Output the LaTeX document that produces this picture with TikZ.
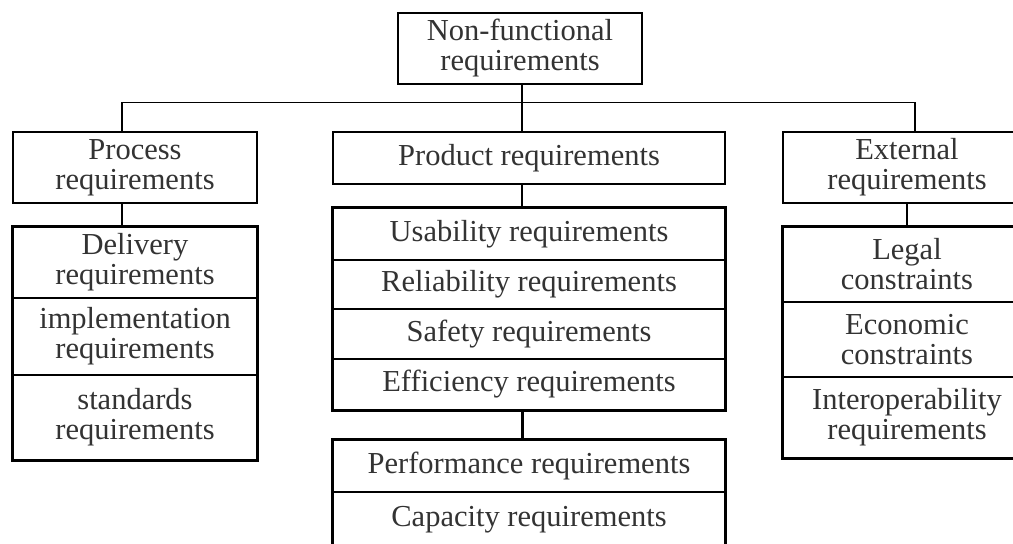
\documentclass[tikz,border=0pt]{standalone}
\usepackage{fontspec}
\setmainfont{Liberation Serif}
\begin{document}
\begin{tikzpicture}[x=1pt,y=-1pt,
  lbl/.style={font=\fontsize{30.5}{30}\selectfont, text=black!80, align=center},
  box/.style={draw, line width=1.5pt, inner sep=0pt, lbl},
  cell/.style={draw, line width=1.2pt, inner sep=0pt, lbl},
  frame/.style={line width=2.4pt},
  link/.style={line width=1.4pt},
  heavylink/.style={line width=3pt}]
\useasboundingbox (0,0) rectangle (1013,544);
\clip (0,0) rectangle (1013,544);
% top
\node[box, minimum width=244pt, minimum height=71pt] (top) at (520,48.5) {Non-functional\\requirements};
% level 2
\node[box, minimum width=244pt, minimum height=71pt] (process) at (135,167.5) {Process\\requirements};
\node[box, minimum width=392pt, minimum height=52pt] (product) at (529,158) {Product requirements};
\node[box, minimum width=248pt, minimum height=71pt] (external) at (907,167.5) {External\\requirements};
% process children
\node[cell, minimum width=244pt, minimum height=71pt] (d1) at (135,262.5) {Delivery\\requirements};
\node[cell, minimum width=244pt, minimum height=77pt] (d2) at (135,336.5) {implementation\\requirements};
\node[cell, minimum width=244pt, minimum height=85pt] (d3) at (135,417.5) {standards\\requirements};
\draw[frame] (d1.north west) rectangle (d3.south east);
% product children
\node[cell, minimum width=392pt, minimum height=52pt] (u) at (529,234) {Usability requirements};
\node[cell, minimum width=392pt, minimum height=49pt] (r) at (529,284.5) {Reliability requirements};
\node[cell, minimum width=392pt, minimum height=50pt] (s) at (529,334) {Safety requirements};
\node[cell, minimum width=392pt, minimum height=51pt] (e) at (529,384.5) {Efficiency requirements};
\draw[frame] (u.north west) rectangle (e.south east);
\node[cell, minimum width=392pt, minimum height=52pt] (p) at (529,466) {Performance requirements};
\node[cell, minimum width=392pt, minimum height=56pt] (c) at (529,520) {Capacity requirements};
\draw[frame] (p.north west) rectangle (c.south east);
% external children
\node[cell, minimum width=248pt, minimum height=75pt] (l) at (907,264.5) {Legal\\constraints};
\node[cell, minimum width=248pt, minimum height=75pt] (ec) at (907,339.5) {Economic\\constraints};
\node[cell, minimum width=248pt, minimum height=81pt] (io) at (907,417.5) {Interoperability\\requirements};
\draw[frame] (l.north west) rectangle (io.south east);
% connectors
\draw[link] ([xshift=2pt]top.south) -- ([xshift=-7pt]product.north);
\draw[link] ([xshift=-13pt]process.north) -- ++(0,-29) -| ([xshift=8pt]external.north);
\draw[link] ([xshift=-13pt]process.south) -- ([xshift=-13pt]d1.north);
\draw[link] ([xshift=-7pt]product.south) -- ([xshift=-7pt]u.north);
\draw[heavylink] ([xshift=-7pt]e.south) -- ([xshift=-7pt]p.north);
\draw[link] (external.south) -- (l.north);
\end{tikzpicture}
\end{document}
